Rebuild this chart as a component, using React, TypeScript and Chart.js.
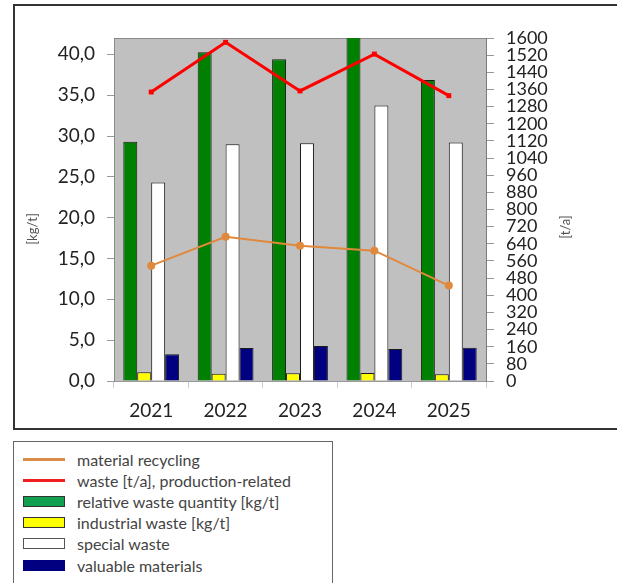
import React, { useEffect, useRef } from 'react';
import { Chart, registerables } from 'chart.js';

Chart.register(...registerables);

const years = ['2021', '2022', '2023', '2024', '2025'];
const relativeWaste = [29.3, 40.25, 39.4, 44.0, 36.85];
const industrialWaste = [1.06, 0.9, 0.94, 0.98, 0.82];
const specialWaste = [24.3, 29.0, 29.1, 33.75, 29.2];
const valuableMaterials = [3.27, 4.04, 4.29, 3.92, 4.08];
const wasteTa = [1348, 1580, 1353, 1525, 1331];
const materialRecycling = [538, 673, 631, 608, 445];

const leftTicks = [0, 5, 10, 15, 20, 25, 30, 35, 40];
const rightTicks = [0, 80, 160, 240, 320, 400, 480, 560, 640, 720, 800, 880, 960, 1040, 1120, 1200, 1280, 1360, 1440, 1520, 1600];

const leftTitle = '[kg/t]';
const rightTitle = '[t/a]';

const FONT = 'Lato, "Open Sans", sans-serif';

const legendItems = [
  { label: 'material recycling', kind: 'line', color: '#d98b48' },
  { label: 'waste [t/a], production-related', kind: 'line', color: '#f02020' },
  { label: 'relative waste quantity [kg/t]', kind: 'box', color: '#10a050', border: '#333' },
  { label: 'industrial waste [kg/t]', kind: 'box', color: '#ffff00', border: '#333' },
  { label: 'special waste', kind: 'box', color: '#ffffff', border: '#555' },
  { label: 'valuable materials', kind: 'box', color: '#000080', border: '#000080' },
];

const bgPlugin = {
  id: 'plotBg',
  beforeDraw(chart: any) {
    const { ctx, chartArea: a } = chart;
    ctx.save();
    ctx.fillStyle = '#c0c0c0';
    ctx.fillRect(a.left, a.top, a.right - a.left, a.bottom - a.top);
    ctx.strokeStyle = '#8a8a8a';
    ctx.lineWidth = 1;
    ctx.beginPath();
    ctx.moveTo(a.left, a.top + 0.5);
    ctx.lineTo(a.right, a.top + 0.5);
    ctx.stroke();
    ctx.restore();
  },
  afterDraw(chart: any) {
    const { ctx, chartArea: a } = chart;
    ctx.save();
    ctx.fillStyle = '#555';
    ctx.font = `13px ${FONT}`;
    ctx.textAlign = 'center';
    ctx.textBaseline = 'middle';
    ctx.translate(a.left - 81, 229);
    ctx.rotate(-Math.PI / 2);
    ctx.fillText(leftTitle, 0, 0);
    ctx.restore();
    ctx.save();
    ctx.fillStyle = '#555';
    ctx.font = `13px ${FONT}`;
    ctx.textAlign = 'center';
    ctx.textBaseline = 'middle';
    ctx.translate(a.right + 80, 227);
    ctx.rotate(-Math.PI / 2);
    ctx.fillText(rightTitle, 0, 0);
    ctx.restore();
  },
};

export default function App() {
  const ref = useRef<HTMLCanvasElement>(null);

  useEffect(() => {
    if (!ref.current) return;
    const barCommon = {
      type: 'bar' as const,
      yAxisID: 'y',
      borderColor: '#1a1a1a',
      borderWidth: 1,
      order: 2,
      categoryPercentage: 0.75,
      barPercentage: 1,
    };
    const chart = new Chart(ref.current, {
      type: 'bar',
      data: {
        labels: years,
        datasets: [
          {
            type: 'line',
            label: 'material recycling',
            data: materialRecycling,
            yAxisID: 'y2',
            borderColor: '#e0883c',
            backgroundColor: '#e0883c',
            borderWidth: 2,
            pointRadius: 4,
            pointStyle: 'circle',
            pointBorderWidth: 0,
            order: 0,
          },
          {
            type: 'line',
            label: 'waste [t/a], production-related',
            data: wasteTa,
            yAxisID: 'y2',
            borderColor: '#ff0000',
            backgroundColor: '#ff0000',
            borderWidth: 3,
            pointRadius: 3.5,
            pointStyle: 'rect',
            pointBorderWidth: 0,
            order: 0,
          },
          { ...barCommon, label: 'relative waste quantity [kg/t]', data: relativeWaste, backgroundColor: '#008000' },
          { ...barCommon, label: 'industrial waste [kg/t]', data: industrialWaste, backgroundColor: '#ffff00' },
          { ...barCommon, label: 'special waste', data: specialWaste, backgroundColor: '#ffffff' },
          { ...barCommon, label: 'valuable materials', data: valuableMaterials, backgroundColor: '#000080' },
        ] as any,
      },
      options: {
        animation: false,
        responsive: false,
        maintainAspectRatio: false,
        devicePixelRatio: 1,
        layout: { padding: { left: 14, right: 31, top: 38, bottom: 1 } },
        plugins: { legend: { display: false }, tooltip: { enabled: false }, title: { display: false } },
        scales: {
          x: {
            grid: { offset: true, drawOnChartArea: false, tickLength: 7, color: '#cccccc' },
            border: { color: '#999999' },
            ticks: { font: { family: FONT, size: 19 }, color: '#222', padding: 11 },
            afterFit(scale: any) { scale.height = 48; },
          },
          y: {
            position: 'left',
            min: 0,
            max: 42,
            grid: { drawOnChartArea: false, tickLength: 7, color: '#999999' },
            border: { color: '#8a8a8a' },
            ticks: {
              font: { family: FONT, size: 19 },
              color: '#222',
              padding: 12,
              autoSkip: false,
              callback: (v: any) => Number(v).toFixed(1).replace('.', ','),
            },
            afterBuildTicks(scale: any) { scale.ticks = leftTicks.map((v) => ({ value: v })); },
            afterFit(scale: any) { scale.width = 100; },
          },
          y2: {
            position: 'right',
            min: 0,
            max: 1600,
            grid: { drawOnChartArea: false, tickLength: 8, color: '#999999' },
            border: { color: '#7a7a7a' },
            ticks: {
              font: { family: FONT, size: 18 },
              color: '#222',
              padding: 12,
              autoSkip: false,
              callback: (v: any) => String(v),
            },
            afterBuildTicks(scale: any) { scale.ticks = rightTicks.map((v) => ({ value: v })); },
            afterFit(scale: any) { scale.width = 100; },
          },
        },
      } as any,
      plugins: [bgPlugin],
    });
    return () => chart.destroy();
  }, []);

  return (
    <div style={{ position: 'fixed', left: 0, top: 0, width: 617, height: 583, overflow: 'hidden', background: '#fff', fontFamily: FONT }}>
      <div style={{ position: 'absolute', left: 13, top: 4, width: 700, height: 426, boxSizing: 'border-box', border: '2px solid #333' }} />
      <canvas ref={ref} width={617} height={430} style={{ position: 'absolute', left: 0, top: 0, width: 617, height: 430 }} />
      <div style={{ position: 'absolute', left: 13, top: 441, width: 320, height: 200, boxSizing: 'border-box', border: '1px solid #666' }}>
        {legendItems.map((it, i) => (
          <div key={it.label} style={{ position: 'absolute', left: 0, top: 6 + i * 21.2, height: 22, display: 'flex', alignItems: 'center', whiteSpace: 'nowrap' }}>
            <div style={{ width: 42, marginLeft: 9, marginRight: 12, display: 'flex', alignItems: 'center', justifyContent: 'center' }}>
              {it.kind === 'line' ? (
                <div style={{ width: 42, height: 3, background: it.color }} />
              ) : (
                <div style={{ width: 42, height: 11, boxSizing: 'border-box', background: it.color, border: `1px solid ${it.border}` }} />
              )}
            </div>
            <span style={{ fontSize: 16, color: '#444' }}>{it.label}</span>
          </div>
        ))}
      </div>
    </div>
  );
}
